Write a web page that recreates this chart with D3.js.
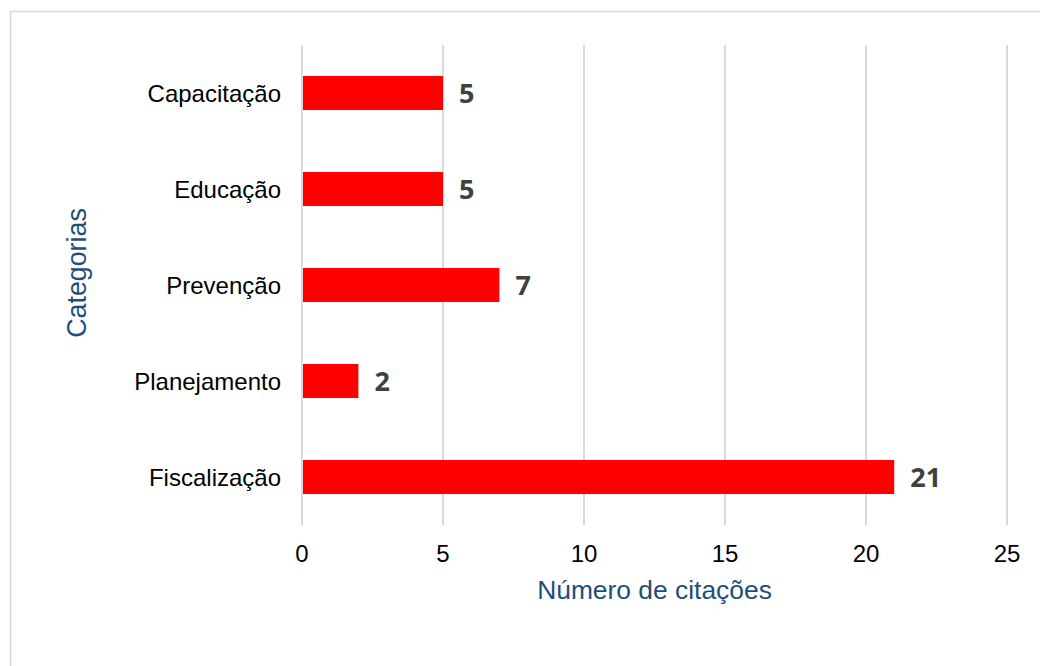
<!DOCTYPE html>
<html>
<head>
<meta charset="utf-8">
<script src="https://cdn.jsdelivr.net/npm/d3@7"></script>
<style>
  body { margin: 0; background: #fff; }
  svg { display: block; }
</style>
</head>
<body>
<div id="chart"></div>
<script>
// categories top to bottom, as in the picture
const categories = ['Capacitação', 'Educação', 'Prevenção', 'Planejamento', 'Fiscalização']
const citations  = [5, 5, 7, 2, 21]
const xTicks     = [0, 5, 10, 15, 20, 25]

const width = 1040, height = 666
const margin = {top: 45, right: 33, bottom: 141, left: 302}
const sans = "'Liberation Sans', Arial, sans-serif"

const svg = d3.select('#chart').append('svg')
    .attr('width', width)
    .attr('height', height)

// outer frame (right and bottom edges fall outside the picture)
svg.append('rect')
    .attr('x', 10.5).attr('y', 11.5)
    .attr('width', 1040).attr('height', 700)
    .attr('fill', 'none')
    .attr('stroke', '#d9d9d9')
    .attr('stroke-width', 1.5)

const x = d3.scaleLinear()
    .domain([0, 25])
    .range([margin.left, width - margin.right])

const y = d3.scaleBand()
    .domain(categories)
    .range([margin.top, height - margin.bottom])
    .paddingInner(0.646)
    .paddingOuter(0.323)

// vertical gridlines
svg.append('g')
    .selectAll('line')
    .data(xTicks)
    .join('line')
    .attr('x1', d => x(d)).attr('x2', d => x(d))
    .attr('y1', margin.top).attr('y2', height - margin.bottom)
    .attr('stroke', '#d9d9d9')
    .attr('stroke-width', 2)

// x tick labels
svg.append('g')
    .selectAll('text')
    .data(xTicks)
    .join('text')
    .attr('x', d => x(d))
    .attr('y', 562)
    .attr('text-anchor', 'middle')
    .attr('font-family', sans)
    .attr('font-size', 24)
    .attr('fill', '#000')
    .text(d => d)

// bars
svg.append('g')
    .selectAll('rect')
    .data(categories)
    .join('rect')
    .attr('x', x(0) + 1)
    .attr('y', d => y(d))
    .attr('width', (d, i) => x(citations[i]) - x(0) - 1)
    .attr('height', y.bandwidth())
    .attr('fill', '#ff0000')

// category labels
svg.append('g')
    .selectAll('text')
    .data(categories)
    .join('text')
    .attr('x', 281)
    .attr('y', d => y(d) + y.bandwidth() / 2)
    .attr('dy', '0.36em')
    .attr('text-anchor', 'end')
    .attr('font-family', sans)
    .attr('font-size', 24)
    .attr('fill', '#000')
    .text(d => d)

// value labels
svg.append('g')
    .selectAll('text')
    .data(categories)
    .join('text')
    .attr('x', (d, i) => x(citations[i]) + 16)
    .attr('y', d => y(d) + y.bandwidth() / 2)
    .attr('dy', '0.36em')
    .attr('font-family', "'Open Sans', Lato, sans-serif")
    .attr('font-weight', 'bold')
    .attr('font-size', 27)
    .attr('fill', '#404040')
    .text((d, i) => citations[i])

// axis titles
svg.append('text')
    .attr('x', (x(0) + x(25)) / 2)
    .attr('y', 599)
    .attr('text-anchor', 'middle')
    .attr('font-family', sans)
    .attr('font-size', 26.4)
    .attr('fill', '#1f4e79')
    .text('Número de citações')

svg.append('text')
    .attr('transform', 'translate(86,273) rotate(-90)')
    .attr('text-anchor', 'middle')
    .attr('font-family', sans)
    .attr('font-size', 26.8)
    .attr('fill', '#1f4e79')
    .text('Categorias')
</script>
</body>
</html>
